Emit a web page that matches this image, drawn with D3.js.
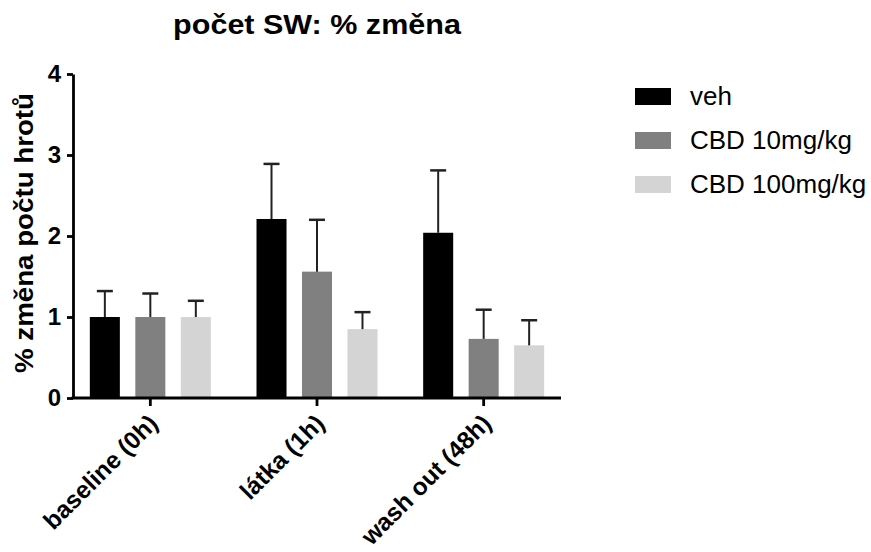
<!DOCTYPE html>
<html>
<head>
<meta charset="utf-8">
<script src="https://cdn.jsdelivr.net/npm/d3@7"></script>
<style>
  html, body { margin: 0; padding: 0; background: #fff; }
  svg { display: block; font-family: "Liberation Sans", Arial, Helvetica, sans-serif; }
</style>
</head>
<body>
<svg id="chart" width="871" height="552"></svg>
<script>
// Time points and treatment groups
const categories = ["baseline (0h)", "látka (1h)", "wash out (48h)"];
const series = ["veh", "CBD 10mg/kg", "CBD 100mg/kg"];

// Mean % change per group, one value per time point
const vehMeans    = [1.00, 2.21, 2.04];
const cbd10Means  = [1.00, 1.56, 0.73];
const cbd100Means = [1.00, 0.85, 0.65];

// Upper error (SEM) per group
const vehErr    = [0.32, 0.68, 0.77];
const cbd10Err  = [0.29, 0.64, 0.36];
const cbd100Err = [0.20, 0.21, 0.31];

const yTicks = [0, 1, 2, 3, 4];

const colors = ["#000000", "#808080", "#d4d4d4"];

const means = [vehMeans, cbd10Means, cbd100Means];
const errs = [vehErr, cbd10Err, cbd100Err];
const rows = [];
categories.forEach((c, ci) => {
  series.forEach((s, si) => {
    rows.push({ cat: c, series: s, si, value: means[si][ci], err: errs[si][ci] });
  });
});

const svg = d3.select("#chart");
const font = '"Liberation Sans", Arial, Helvetica, sans-serif';

// Plot frame
const plotLeft = 73, plotRight = 561, plotTop = 74, plotBottom = 398;

const y = d3.scaleLinear().domain([0, 4]).range([plotBottom, plotTop]);
const x0 = d3.scaleBand().domain(categories).range([plotLeft - 6, plotRight + 6]);
const x1 = d3.scaleBand().domain(series).range([-60.5, 60.5]).paddingInner(0.34).paddingOuter(0);

// stretch text to a target width relative to its natural width
function stretch(sel, k) {
  sel.each(function () {
    const n = this.getComputedTextLength();
    d3.select(this).attr("textLength", n * k).attr("lengthAdjust", "spacingAndGlyphs");
  });
}

// Bars
const g = svg.append("g");
g.selectAll("rect.bar")
  .data(rows)
  .join("rect")
  .attr("class", "bar")
  .attr("x", d => x0(d.cat) + x0.bandwidth() / 2 + x1(d.series))
  .attr("width", x1.bandwidth())
  .attr("y", d => y(d.value))
  .attr("height", d => y(0) - y(d.value))
  .attr("fill", d => colors[d.si]);

// Error bars (upper only)
const eb = g.selectAll("g.err").data(rows).join("g").attr("class", "err")
  .attr("transform", d => `translate(${x0(d.cat) + x0.bandwidth() / 2 + x1(d.series) + x1.bandwidth() / 2},0)`);
eb.append("line")
  .attr("x1", 0).attr("x2", 0)
  .attr("y1", d => y(d.value))
  .attr("y2", d => y(d.value + d.err))
  .attr("stroke", "#222").attr("stroke-width", 2);
eb.append("line")
  .attr("x1", -8).attr("x2", 8)
  .attr("y1", d => y(d.value + d.err))
  .attr("y2", d => y(d.value + d.err))
  .attr("stroke", "#222").attr("stroke-width", 2.5);

// Y axis
const yAxis = svg.append("g")
  .attr("transform", `translate(${plotLeft},0)`)
  .call(d3.axisLeft(y).tickValues(yTicks).tickFormat(d3.format("d")).tickSize(6).tickSizeOuter(0).tickPadding(6));
yAxis.select(".domain").attr("stroke", "#000").attr("stroke-width", 2.8);
yAxis.selectAll(".tick line").attr("stroke", "#000").attr("stroke-width", 2.8);
yAxis.selectAll(".tick text")
  .attr("font-family", font).attr("font-size", 24).attr("font-weight", "bold").attr("fill", "#000");

// X axis
const xAxis = svg.append("g").attr("transform", `translate(0,${plotBottom})`);
xAxis.append("line")
  .attr("x1", plotLeft - 1.4).attr("x2", plotRight)
  .attr("y1", 0).attr("y2", 0)
  .attr("stroke", "#000").attr("stroke-width", 2.8);
xAxis.selectAll("line.tick")
  .data(categories)
  .join("line")
  .attr("class", "tick")
  .attr("x1", d => x0(d) + x0.bandwidth() / 2)
  .attr("x2", d => x0(d) + x0.bandwidth() / 2)
  .attr("y1", 0).attr("y2", 8)
  .attr("stroke", "#000").attr("stroke-width", 2.8);
xAxis.selectAll("text.xlab")
  .data(categories)
  .join("text")
  .attr("class", "xlab")
  .attr("transform", d => `translate(${x0(d) + x0.bandwidth() / 2 + 9},27) rotate(-45)`)
  .attr("text-anchor", "end")
  .attr("font-family", font).attr("font-size", 24.5).attr("font-weight", "bold").attr("fill", "#000")
  .text(d => d);

// Y axis title
svg.append("text")
  .attr("transform", `translate(33,${(plotTop + plotBottom) / 2 - 3}) rotate(-90)`)
  .attr("text-anchor", "middle")
  .attr("font-family", font).attr("font-size", 26).attr("font-weight", "bold").attr("fill", "#000")
  .text("% změna počtu hrotů")
  .call(stretch, 1.065);

// Title
svg.append("text")
  .attr("x", (plotLeft + plotRight) / 2).attr("y", 34)
  .attr("text-anchor", "middle")
  .attr("font-family", font).attr("font-size", 28).attr("font-weight", "bold").attr("fill", "#000")
  .text("počet SW: % změna")
  .call(stretch, 1.09);

// Legend
const legend = svg.append("g").attr("transform", "translate(635,88)");
const li = legend.selectAll("g").data(series).join("g")
  .attr("transform", (d, i) => `translate(0,${i * 44})`);
li.append("rect").attr("width", 36).attr("height", 17).attr("fill", (d, i) => colors[i]);
li.append("text")
  .attr("x", 55).attr("y", 17)
  .attr("font-family", font).attr("font-size", 25).attr("fill", "#000")
  .text(d => d)
  .call(stretch, 1.04);
</script>
</body>
</html>
